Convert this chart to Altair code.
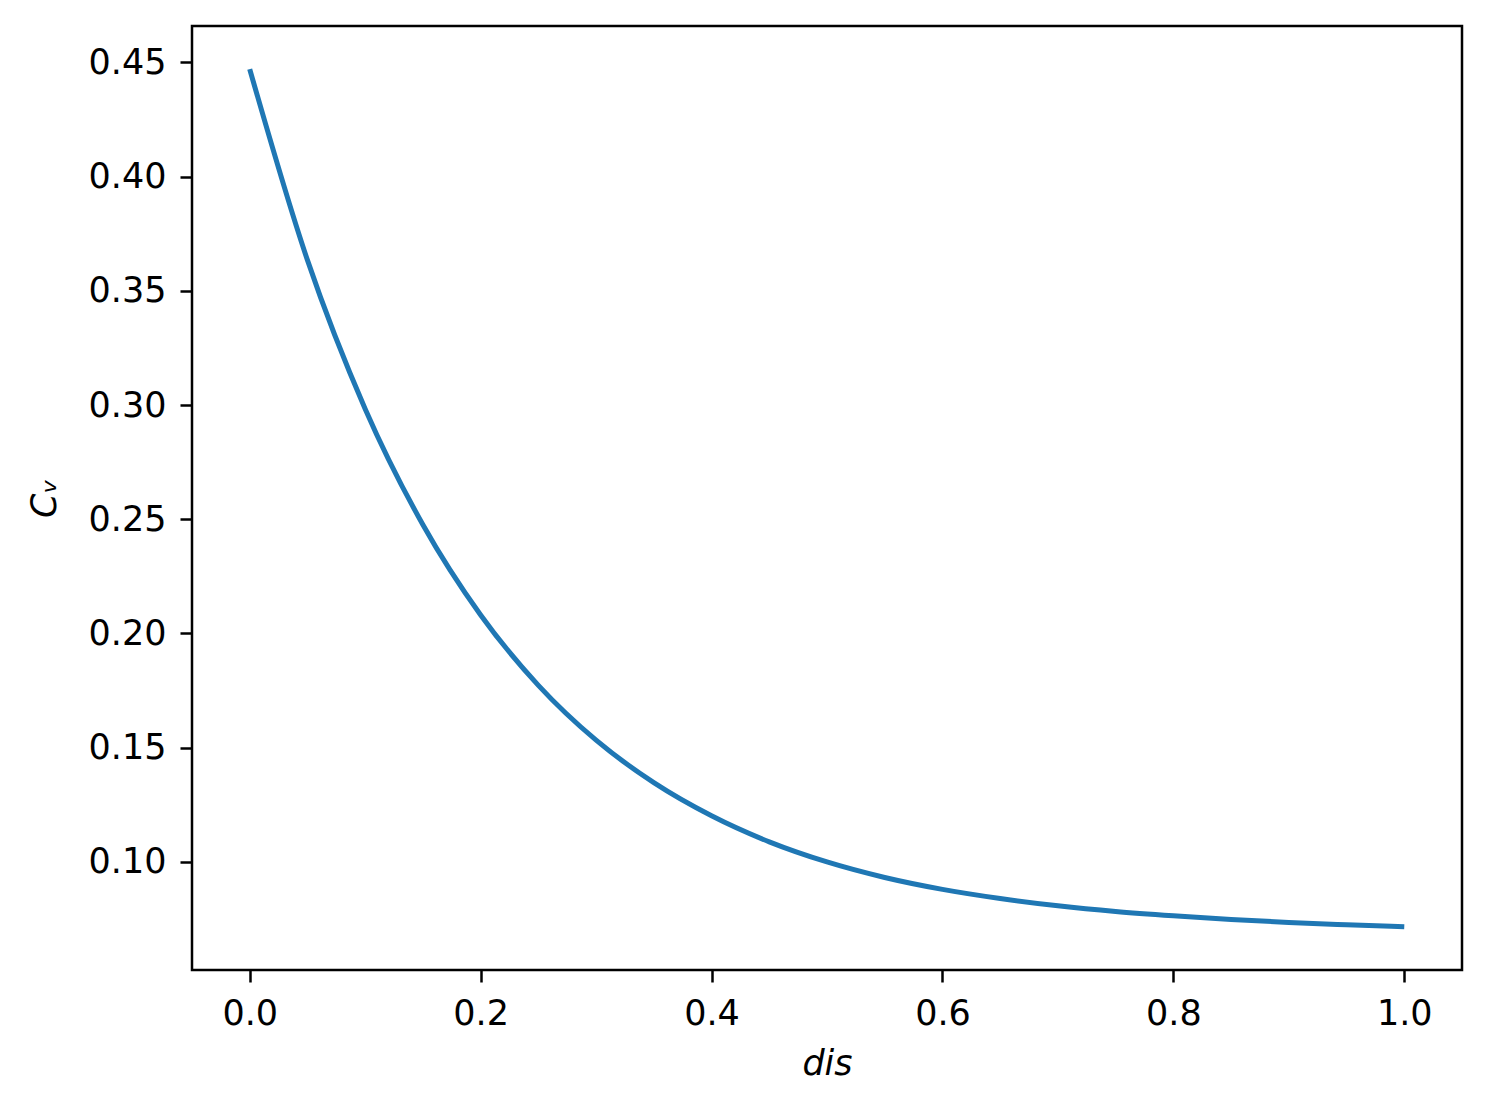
import altair as alt
import pandas as pd

# values
dis = [0.00, 0.05, 0.10, 0.15, 0.20, 0.25, 0.30, 0.35, 0.40, 0.45, 0.50,
       0.55, 0.60, 0.65, 0.70, 0.75, 0.80, 0.85, 0.90, 0.95, 1.00]
cv = [0.4470, 0.3634, 0.2983, 0.2476, 0.2081, 0.1773, 0.1533, 0.1347, 0.1202,
      0.1088, 0.1000, 0.0932, 0.0880, 0.0840, 0.0808, 0.0783, 0.0764, 0.0748,
      0.0735, 0.0725, 0.0716]

x_ticks = [0.0, 0.2, 0.4, 0.6, 0.8, 1.0]
y_ticks = [0.10, 0.15, 0.20, 0.25, 0.30, 0.35, 0.40, 0.45]

df = pd.DataFrame({"dis": dis, "cv": cv})

FONT = "DejaVu Sans"

chart = alt.Chart(df).mark_line(
    color="#1f77b4", strokeWidth=5, interpolate="monotone"
).encode(
    x=alt.X("dis:Q",
            scale=alt.Scale(domain=[-0.05, 1.05], nice=False, zero=False),
            axis=alt.Axis(title="dis", values=x_ticks, format=".1f",
                          titleFontStyle="italic", titleFontWeight="normal",
                          titlePadding=15)),
    y=alt.Y("cv:Q",
            scale=alt.Scale(domain=[0.0527, 0.4659], nice=False, zero=False),
            axis=alt.Axis(title="Cᵥ", values=y_ticks, format=".2f",
                          titleFontStyle="italic", titleFontWeight="normal",
                          titlePadding=26)),
).properties(
    width=1270,
    height=944,
    autosize=alt.AutoSizeParams(type="none"),
    padding={"left": 184, "top": 18, "right": 20, "bottom": 130},
).configure_view(
    stroke="black", strokeWidth=2.5
).configure_axis(
    grid=False,
    domain=False,
    ticks=True,
    tickColor="black",
    tickWidth=2.5,
    tickSize=12,
    labelFont=FONT,
    labelFontSize=35,
    labelColor="black",
    labelPadding=14,
    titleFont=FONT,
    titleFontSize=35,
    titleColor="black",
)

chart.save("out.html", embed_options={"renderer": "svg", "actions": False})
